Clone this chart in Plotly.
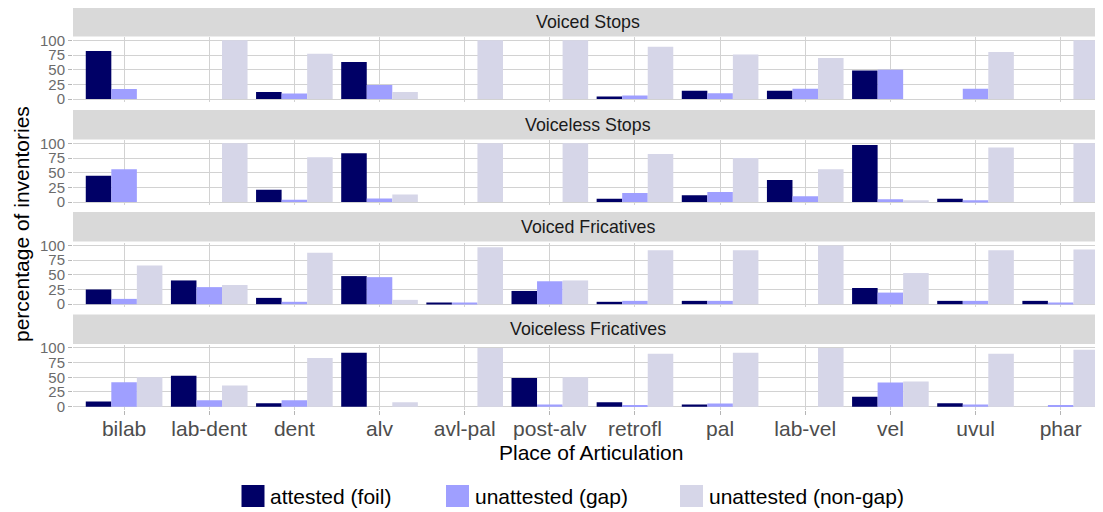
import plotly.graph_objects as go

categories = ["bilab", "lab-dent", "dent", "alv", "avl-pal", "post-alv",
              "retrofl", "pal", "lab-vel", "vel", "uvul", "phar"]
panel_titles = ["Voiced Stops", "Voiceless Stops", "Voiced Fricatives", "Voiceless Fricatives"]
series_names = ["attested (foil)", "unattested (gap)", "unattested (non-gap)"]

voiced_stops_foil = [82, 0, 12, 63, 0, 0, 4.5, 14, 14, 48.6, 0, 0]
voiced_stops_gap = [17, 0, 9.6, 24, 0, 0, 6, 10, 17.5, 50, 17.5, 0]
voiced_stops_nongap = [0, 100, 77, 12, 100, 100, 89, 76, 70, 0, 80, 100]

voiceless_stops_foil = [44.6, 0, 21, 83, 0, 0, 5.7, 11.4, 37.7, 97, 5.7, 0]
voiceless_stops_gap = [56, 0, 4, 6, 0, 0, 15.4, 17, 9.7, 4.6, 2.9, 0]
voiceless_stops_nongap = [0, 100, 76.5, 13, 100, 100, 82, 75, 56, 2.9, 93, 100]

voiced_fric_foil = [25, 40.4, 10.7, 47.8, 1.7, 22.5, 4, 5.6, 0, 27.5, 5.6, 5.6]
voiced_fric_gap = [9, 29, 4, 46, 1.7, 39, 5.6, 5.6, 0, 19.7, 5.6, 2]
voiced_fric_nongap = [66, 32.6, 87.6, 7.3, 97, 40.4, 91.6, 91.6, 100, 53, 91.6, 93]

voiceless_fric_foil = [9, 52.6, 5.8, 92, 0, 49, 7.5, 3.5, 0, 17, 5.8, 0]
voiceless_fric_gap = [41.6, 11, 11, 0, 0, 3.5, 1.7, 5.2, 0, 41, 3.5, 1.7]
voiceless_fric_nongap = [50, 36, 82.7, 7.5, 100, 50, 90, 92, 100, 43, 90, 97]

y_ticks = [0, 25, 50, 75, 100]

panels = [
    [voiced_stops_foil, voiced_stops_gap, voiced_stops_nongap],
    [voiceless_stops_foil, voiceless_stops_gap, voiceless_stops_nongap],
    [voiced_fric_foil, voiced_fric_gap, voiced_fric_nongap],
    [voiceless_fric_foil, voiceless_fric_gap, voiceless_fric_nongap],
]
colors = ["#000066", "#9f9fff", "#d6d6e8"]

# the page body adds an 8px offset, so the figure is sized to fill the rest of the window
OFF = 8
W, H = 1103 - OFF, 512 - OFF
ML = 73 - OFF
FONT = "Liberation Sans, Arial, sans-serif"


def px_x(p):
    return (p - OFF - ML) / (W - ML)


def px_y(p):
    return 1 - (p - OFF) / H


panel_tops = [37.4, 140.4, 242.5, 345.0]
panel_h = 64.6
strip_h = 29.5

fig = go.Figure()
layout = dict(
    template="none",
    width=W, height=H,
    margin=dict(l=ML, r=0, t=0, b=0, pad=0, autoexpand=False),
    paper_bgcolor="white", plot_bgcolor="white",
    barmode="group", bargap=0.1, bargroupgap=0,
    showlegend=False,
    font=dict(family=FONT),
)
shapes = []
annotations = []

for i, (title, data) in enumerate(zip(panel_titles, panels)):
    n = i + 1
    xa = "x" if n == 1 else f"x{n}"
    ya = "y" if n == 1 else f"y{n}"
    for name, vals, col in zip(series_names, data, colors):
        fig.add_trace(go.Bar(x=categories, y=vals, name=name, marker=dict(color=col, line=dict(width=0)),
                             xaxis=xa, yaxis=ya, showlegend=False))
    top = panel_tops[i]
    bot = top + panel_h
    bottom_panel = (n == 4)
    layout["xaxis" if n == 1 else f"xaxis{n}"] = dict(
        domain=[0, 1], anchor=ya, type="category", automargin=False,
        categoryorder="array", categoryarray=categories,
        range=[-0.6, 11.497], showgrid=True, gridcolor="#d2d2d2", gridwidth=1,
        zeroline=False, showline=False,
        ticks="outside" if bottom_panel else "", ticklen=4, tickcolor="#b5b5b5",
        showticklabels=bottom_panel, ticklabelstandoff=-4,
        tickfont=dict(size=21, color="#4d4d4d", family=FONT),
    )
    layout["yaxis" if n == 1 else f"yaxis{n}"] = dict(
        domain=[px_y(bot), px_y(top)], anchor=xa, automargin=False,
        range=[-5, 105], tickvals=y_ticks, ticktext=[str(v) for v in y_ticks],
        showgrid=True, gridcolor="#d2d2d2", gridwidth=1, zeroline=False, showline=False,
        ticks="outside", ticklen=4, tickcolor="#b5b5b5",
        tickfont=dict(size=15, color="#6b6b6b", family=FONT),
    )
    # strip
    s_bot = top - 1.0
    s_top = s_bot - strip_h
    shapes.append(dict(type="rect", xref="paper", yref="paper", x0=0, x1=1,
                       y0=px_y(s_bot), y1=px_y(s_top), fillcolor="#d9d9d9", line=dict(width=0), layer="below"))
    annotations.append(dict(text=title, xref=xa, yref="paper", x=5.45, y=px_y((s_top + s_bot) / 2),
                            showarrow=False, xanchor="center", yanchor="middle",
                            font=dict(size=17.8, color="#1a1a1a", family=FONT)))

# axis titles
annotations.append(dict(text="percentage of inventories", xref="paper", yref="paper",
                        x=px_x(21), y=px_y(224), textangle=-90, showarrow=False,
                        xanchor="center", yanchor="middle", font=dict(size=21, color="black", family=FONT)))
annotations.append(dict(text="Place of Articulation", xref="paper", yref="paper",
                        x=px_x(591), y=px_y(452), showarrow=False,
                        xanchor="center", yanchor="middle", font=dict(size=21, color="black", family=FONT)))

# legend
leg_sq = [241.5, 446, 680]
for x0, name, col in zip(leg_sq, series_names, colors):
    shapes.append(dict(type="rect", xref="paper", yref="paper", x0=px_x(x0), x1=px_x(x0 + 23),
                       y0=px_y(507), y1=px_y(485), fillcolor=col, line=dict(width=0)))
    annotations.append(dict(text=name, xref="paper", yref="paper", x=px_x(x0 + 26.5), y=px_y(496),
                            showarrow=False, xanchor="left", yanchor="middle",
                            font=dict(size=21, color="black", family=FONT)))

layout["shapes"] = shapes
layout["annotations"] = annotations
fig.update_layout(**layout)
fig.write_html("out.html")
